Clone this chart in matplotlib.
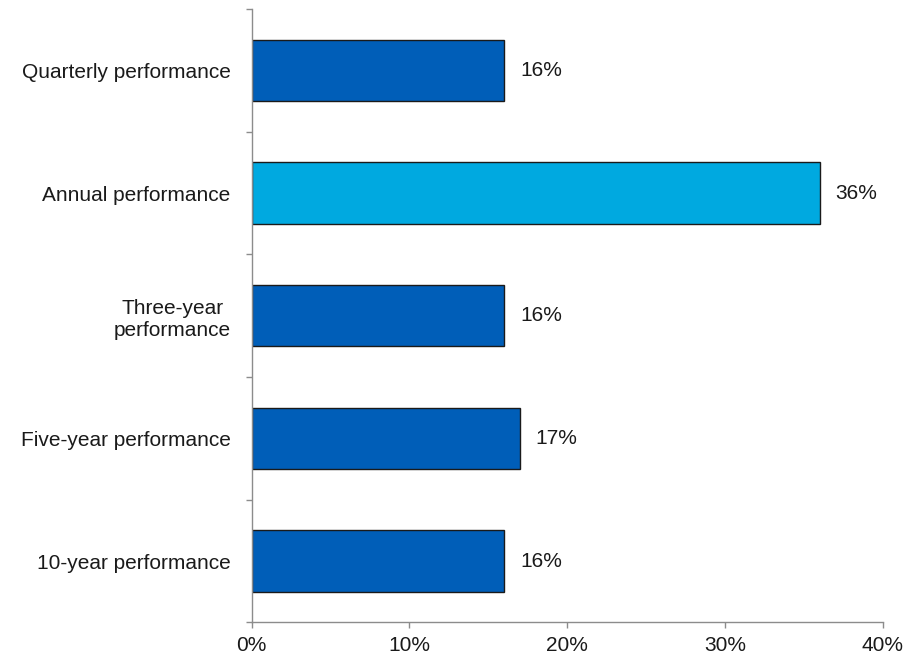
import matplotlib
matplotlib.use("Agg")
import matplotlib.pyplot as plt
import numpy as np
from matplotlib.ticker import FuncFormatter

plt.rcParams["font.family"] = ["Liberation Sans", "DejaVu Sans"]

categories = [
    "Quarterly performance",
    "Annual performance",
    "Three-year\nperformance",
    "Five-year performance",
    "10-year performance",
]
shares = [16, 36, 16, 17, 16]
highlight = "Annual performance"

DARK_BLUE = "#005EB8"
LIGHT_BLUE = "#00A9E0"
AXIS_GRAY = "#8c8c8c"
TEXT = "#1a1a1a"
FS = 15

fig = plt.figure(figsize=(9.17, 6.58), dpi=100)
ax = fig.add_axes([0.2743, 0.0540, 0.6886, 0.9323])

ypos = np.arange(len(categories))
colors = [LIGHT_BLUE if c == highlight else DARK_BLUE for c in categories]
ax.barh(ypos, shares, height=0.5, color=colors, edgecolor=TEXT, linewidth=1.0)

for y, v in zip(ypos, shares):
    ax.text(v + 1.0, y, f"{v}%", va="center", ha="left", fontsize=FS, color=TEXT)

ax.set_xlim(0, 40)
ax.set_ylim(len(categories) - 0.5, -0.5)
ax.set_xticks([0, 10, 20, 30, 40])
ax.xaxis.set_major_formatter(FuncFormatter(lambda x, _: f"{x:.0f}%"))

# category labels sit between the boundary ticks
ax.set_yticks(ypos)
ax.set_yticklabels(categories, multialignment="center")
ax.set_yticks(np.arange(len(categories) + 1) - 0.5, minor=True)
ax.tick_params(axis="y", which="major", length=0, pad=15, labelsize=FS, labelcolor=TEXT)
ax.tick_params(axis="y", which="minor", length=4.5, width=1, color=AXIS_GRAY, direction="out")
ax.tick_params(axis="x", length=4.5, width=1, color=AXIS_GRAY, pad=5, labelsize=FS, labelcolor=TEXT)

for side in ["top", "right"]:
    ax.spines[side].set_visible(False)
for side in ["left", "bottom"]:
    ax.spines[side].set_color(AXIS_GRAY)
    ax.spines[side].set_linewidth(1)

fig.savefig("out.png", dpi=100)
